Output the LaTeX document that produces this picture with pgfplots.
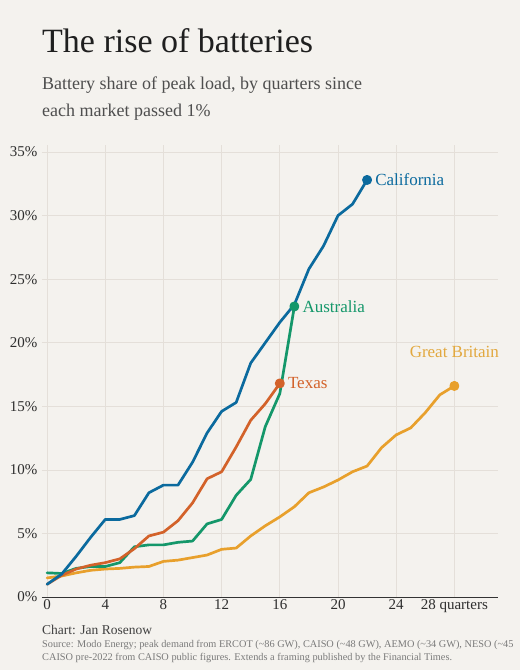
\documentclass[border=0pt]{standalone}
\usepackage{fontspec}
\setmainfont{Liberation Serif}
\usepackage{pgfplots}
\pgfplotsset{compat=1.18}

\definecolor{bgcol}{HTML}{F4F2EE}
\definecolor{gridcol}{HTML}{E4DFD9}
\definecolor{calcol}{HTML}{0B6A9E}
\definecolor{texcol}{HTML}{D3622A}
\definecolor{auscol}{HTML}{14976A}
\definecolor{gbcol}{HTML}{E8A02C}
\definecolor{gblab}{HTML}{E2A83E}
\definecolor{subcol}{HTML}{4E4E4E}
\definecolor{srccol}{HTML}{7A7A7A}
\definecolor{tickcol}{HTML}{2E2E2E}

\begin{document}
\begin{tikzpicture}
\useasboundingbox (0,0) rectangle (520pt,670pt);
\clip (0,0) rectangle (520pt,670pt);
\fill[bgcol] (0,0) rectangle (520pt,670pt);

% Title block
\node[anchor=base west, inner sep=0pt, text=black!88] at (42pt,617pt)
  {\fontsize{34}{40}\selectfont The rise of batteries};
\node[anchor=base west, inner sep=0pt, text=subcol] at (42pt,580pt)
  {\fontsize{18}{22}\selectfont Battery share of peak load, by quarters since};
\node[anchor=base west, inner sep=0pt, text=subcol] at (42pt,553pt)
  {\fontsize{18}{22}\selectfont each market passed 1\%};

\begin{axis}[
  at={(42pt,73pt)}, anchor=south west,
  scale only axis, width=456pt, height=452pt,
  xmin=-0.35, xmax=31, ymin=0, ymax=35.55,
  axis x line*=bottom, axis y line*=left,
  y axis line style={draw=none},
  x axis line style={draw=black!80, line width=0.8pt},
  xtick={0,4,8,12,16,20,24,28},
  xticklabels={0,4,8,12,16,20,24,28 quarters},
  ytick={0,5,10,15,20,25,30,35},
  yticklabel={\pgfmathprintnumber{\tick}\%},
  /pgf/number format/assume math mode=true,
  major tick length=0pt,
  grid=major,
  major grid style={gridcol, line width=0.7pt},
  tick label style={text=tickcol, font=\fontsize{15}{18}\selectfont},
  yticklabel style={xshift=-1pt},
  xticklabel style={yshift=1pt},
  clip=false,
  every axis plot/.append style={line width=2.7pt, line join=round, line cap=round},
]

% Great Britain
\addplot[gbcol, mark=none] coordinates {
 (0,1.5) (1,1.65) (2,1.9) (3,2.1) (4,2.2) (5,2.25) (6,2.35) (7,2.4)
 (8,2.8) (9,2.9) (10,3.1) (11,3.3) (12,3.75) (13,3.85) (14,4.8) (15,5.6)
 (16,6.3) (17,7.1) (18,8.2) (19,8.65) (20,9.2) (21,9.85) (22,10.3)
 (23,11.75) (24,12.75) (25,13.3) (26,14.5) (27,15.9) (28,16.6)};
% Australia
\addplot[auscol, mark=none] coordinates {
 (0,1.9) (1,1.85) (2,2.25) (3,2.4) (4,2.4) (5,2.7) (6,3.95) (7,4.1)
 (8,4.1) (9,4.3) (10,4.4) (11,5.75) (12,6.1) (13,8.0) (14,9.25)
 (15,13.4) (16,16.0) (17,22.85)};
% Texas
\addplot[texcol, mark=none] coordinates {
 (0,1.0) (1,1.7) (2,2.2) (3,2.5) (4,2.7) (5,3.0) (6,3.8) (7,4.8)
 (8,5.1) (9,6.0) (10,7.4) (11,9.3) (12,9.85) (13,11.8) (14,13.9)
 (15,15.2) (16,16.8)};
% California
\addplot[calcol, mark=none] coordinates {
 (0,1.0) (1,1.8) (2,3.2) (3,4.7) (4,6.1) (5,6.1) (6,6.4) (7,8.2)
 (8,8.8) (9,8.8) (10,10.6) (11,12.9) (12,14.6) (13,15.3) (14,18.4)
 (15,20.0) (16,21.6) (17,23.0) (18,25.8) (19,27.6) (20,30.0) (21,30.9)
 (22,32.8)};

% End points
\addplot[only marks, mark=*, mark size=3.6pt, gbcol] coordinates {(28,16.6)};
\addplot[only marks, mark=*, mark size=3.6pt, auscol] coordinates {(17,22.85)};
\addplot[only marks, mark=*, mark size=3.6pt, texcol] coordinates {(16,16.8)};
\addplot[only marks, mark=*, mark size=3.6pt, calcol] coordinates {(22,32.8)};

% Series labels
\node[anchor=west, text=calcol, inner sep=0pt, xshift=8pt,
  font=\fontsize{17}{20}\selectfont] at (axis cs:22,32.8) {California};
\node[anchor=west, text=auscol, inner sep=0pt, xshift=8pt,
  font=\fontsize{17}{20}\selectfont] at (axis cs:17,22.85) {Australia};
\node[anchor=west, text=texcol, inner sep=0pt, xshift=8pt,
  font=\fontsize{17}{20}\selectfont] at (axis cs:16,16.8) {Texas};
\node[anchor=base, text=gblab, inner sep=0pt, yshift=28pt,
  font=\fontsize{17}{20}\selectfont] at (axis cs:28,16.6) {Great Britain};
\end{axis}

% Footer
\node[anchor=base west, inner sep=0pt, text=black!75] at (42pt,35pt)
  {\fontsize{13.5}{16}\selectfont Chart: Jan Rosenow};
\node[anchor=base west, inner sep=0pt, text=srccol] at (42pt,22.5pt)
  {\fontsize{10.3}{12}\selectfont Source: Modo Energy; peak demand from ERCOT (\textasciitilde86 GW), CAISO (\textasciitilde48 GW), AEMO (\textasciitilde34 GW), NESO (\textasciitilde45};
\node[anchor=base west, inner sep=0pt, text=srccol] at (42pt,9.5pt)
  {\fontsize{10.3}{12}\selectfont CAISO pre-2022 from CAISO public figures. Extends a framing published by the Financial Times.};
\end{tikzpicture}
\end{document}
